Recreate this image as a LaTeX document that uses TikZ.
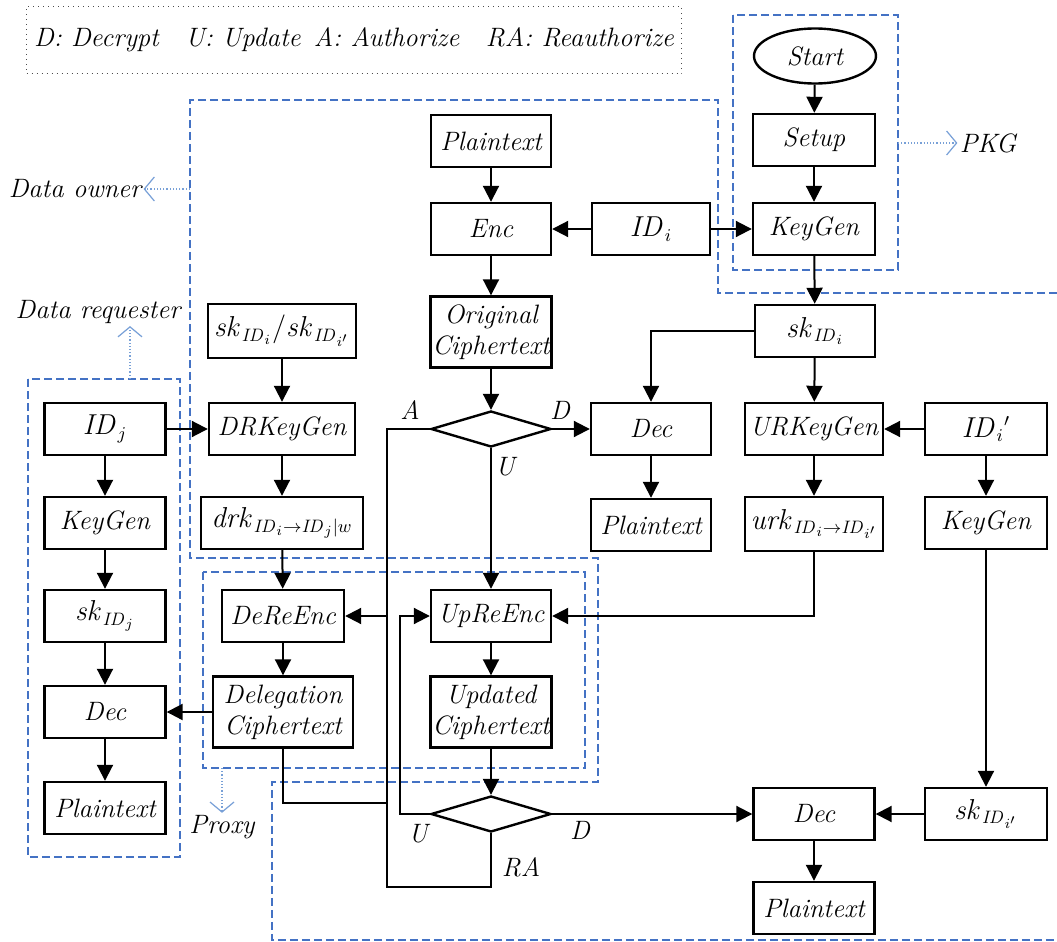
\documentclass[tikz,border=0pt]{standalone}
\usetikzlibrary{shapes.geometric,arrows.meta,calc}
\definecolor{rblue}{RGB}{68,114,196}
\definecolor{lblue}{RGB}{120,160,215}
\newcommand{\xid}{\mathit{ID}}
\newcommand{\xsk}{\mathit{sk}}
\begin{document}
\begin{tikzpicture}[x=0.5pt,y=-0.5pt,
  txt/.style={font=\fontsize{13.3}{15.5}\selectfont\itshape},
  box/.style={txt,draw,line width=1.2pt,inner sep=1pt,minimum width=60pt,minimum height=26pt,align=center},
  tall/.style={box,minimum height=35.5pt},
  dia/.style={draw,diamond,line width=1.2pt,inner sep=0pt,minimum width=60pt,minimum height=18pt},
  arr/.style={line width=1pt,-{Triangle[length=8pt,width=8pt]}},
  ln/.style={line width=1pt},
  region/.style={draw=rblue,line width=1pt,dash pattern=on 4pt off 2pt},
  lblarr/.style={draw=lblue,line width=0.6pt,densely dotted,-{Straight Barb[length=5pt,width=12pt,line width=0.6pt]}},
  lab/.style={txt,inner sep=1pt}]
\useasboundingbox (0,0) rectangle (1057,942);

% legend
\node[draw=black!70,line width=0.5pt,dotted,minimum width=327.5pt,minimum height=33.5pt,font=\fontsize{13.3}{15}\selectfont\itshape] (legend) at (354,40)
  {D: Decrypt\quad U: Update\enspace A: Authorize\quad RA: Reauthorize};

% regions
\draw[region] (733,15) rectangle (898,270);
\draw[region] (1057,293) -- (718,293) -- (718,100) -- (190,100) -- (190,558) -- (598,558) -- (598,782) -- (272,782) -- (272,940) -- (1057,940);
\draw[region] (203,572) rectangle (585,768);
\draw[region] (28,379) rectangle (180,857);

% region labels
\node[lab] (lpkg) at (988,143) {PKG};
\node[lab] (lowner) at (75,189) {Data owner};
\node[lab] (lreq) at (98,312) {Data requester};
\node[lab] (lproxy) at (222,827) {Proxy};
\coordinate (cpkg) at (898,143);
\coordinate (cowner) at (190,189);
\coordinate (creq) at (130,379);
\coordinate (cproxy) at (222,768);
\draw[lblarr] (cpkg) -- (lpkg.west);
\draw[lblarr] (cowner) -- (lowner.east);
\draw[lblarr] (creq) -- (creq |- lreq.south);
\draw[lblarr] (cproxy) -- (lproxy.north);

% PKG
\node[draw,ellipse,line width=1.2pt,txt,minimum width=61pt,minimum height=27.5pt,inner sep=0pt] (start) at (815,56) {Start};
\node[box,minimum width=61pt] (setup) at (814,140) {Setup};
\node[box,minimum width=61pt] (kg1) at (814,229) {KeyGen};

% data owner
\node[box] (pt1) at (491,141) {Plaintext};
\node[box] (enc) at (491,229) {Enc};
\node[box,minimum width=59pt] (idi) at (651,229) {$\xid_i$};
\node[tall] (oc) at (491,332) {Original\\Ciphertext};
\node[dia] (dm1) at (491,429) {};
\node[box] (dec1) at (651,429) {Dec};
\node[box] (pt2) at (651,525) {Plaintext};
\node[box] (ski) at (815,331) {$\xsk_{\xid_i}$};
\node[box,minimum width=69pt] (urkg) at (814,429) {URKeyGen};
\node[box,minimum width=61pt] (idip) at (986,429) {$\xid_i{}'$};
\node[box,minimum width=69pt,minimum height=27pt] (urk) at (814,524) {$\mathit{urk}_{\xid_i\rightarrow \xid_{i'}}$};
\node[box,minimum width=61pt] (kg3) at (986,523) {KeyGen};
\node[box,minimum width=61pt] (skip) at (986,814) {$\xsk_{\xid_{i'}}$};
\node[box,minimum width=60.5pt] (dec3) at (814,814) {Dec};
\node[box,minimum width=60.5pt] (pt4) at (814,908) {Plaintext};
\node[dia] (dm2) at (491,814) {};
\node[box,minimum width=74pt,minimum height=27pt] (sksk) at (282,331) {$\xsk_{\xid_i}/\xsk_{\xid_{i'}}$};
\node[box,minimum width=73pt] (drkg) at (282,429) {DRKeyGen};
\node[box,minimum width=81pt] (drk) at (282,523) {$\mathit{drk}_{\xid_i\rightarrow \xid_j|w}$};

% proxy
\node[box] (upre) at (491,616) {UpReEnc};
\node[tall] (uc) at (491,712) {Updated\\Ciphertext};
\node[box,minimum width=61pt] (dere) at (283,616) {DeReEnc};
\node[tall,minimum width=70pt] (dc) at (283,712) {Delegation\\Ciphertext};

% requester
\node[box,minimum width=60.5pt] (idj) at (105,429) {$\xid_j$};
\node[box,minimum width=60.5pt] (kg2) at (105,523) {KeyGen};
\node[box,minimum width=60.5pt] (skj) at (105,616) {$\xsk_{\xid_j}$};
\node[box,minimum width=60.5pt] (dec2) at (105,712) {Dec};
\node[box,minimum width=60.5pt] (pt3) at (105,808) {Plaintext};

% branch labels
\node[lab] (la) at (410,410) {A};
\node[lab] (ld1) at (560,410) {D};
\node[lab] (lu1) at (505,467) {U};
\node[lab] (lu2) at (418,834) {U};
\node[lab] (ld2) at (580,830) {D};
\node[lab] (lra) at (521,867) {RA};

% connectors
\draw[arr] (start) -- (setup);
\draw[arr] (setup) -- (kg1);
\draw[arr] (idi) -- (enc);
\draw[arr] (idi) -- (kg1);
\draw[arr] (pt1) -- (enc);
\draw[arr] (enc) -- (oc);
\draw[arr] (oc) -- (dm1.north);
\draw[arr] (kg1) -- (ski);
\draw[arr] (ski.west) -| (dec1.north);
\draw[arr] (ski) -- (urkg);
\draw[arr] (idip) -- (urkg);
\draw[arr] (urkg) -- (urk);
\draw[arr] (urk.south) |- (upre.east);
\draw[arr] (idip) -- (kg3);
\draw[arr] (kg3) -- (skip);
\draw[arr] (skip) -- (dec3);
\draw[arr] (dec3) -- (pt4);
\draw[arr] (dm1.east) -- (dec1.west);
\draw[arr] (dec1) -- (pt2);
\draw[arr] (dm1.south) -- (upre.north);
\coordinate (jA) at (387,429);
\coordinate (jB) at (387,887);
\coordinate (jC) at (387,803);
\coordinate (uL) at (400,814);
\draw[ln] (dm1.west) -- (jA) -- (jB) -| (dm2.south);
\draw[arr] (jA |- dere.east) -- (dere.east);
\draw[ln] (dc.south) |- (jC);
\draw[arr] (dc.west) -- (dec2.east);
\draw[arr] (dm2.west) -- (uL) |- (upre.west);
\draw[arr] (dm2.east) -- (dec3.west);
\draw[arr] (upre) -- (uc);
\draw[arr] (uc) -- (dm2.north);
\draw[arr] (dere) -- (dc);
\draw[arr] (drk) -- (dere);
\draw[arr] (drkg) -- (drk);
\draw[arr] (sksk) -- (drkg);
\draw[arr] (idj) -- (drkg);
\draw[arr] (idj) -- (kg2);
\draw[arr] (kg2) -- (skj);
\draw[arr] (skj) -- (dec2);
\draw[arr] (dec2) -- (pt3);
\end{tikzpicture}
\end{document}
